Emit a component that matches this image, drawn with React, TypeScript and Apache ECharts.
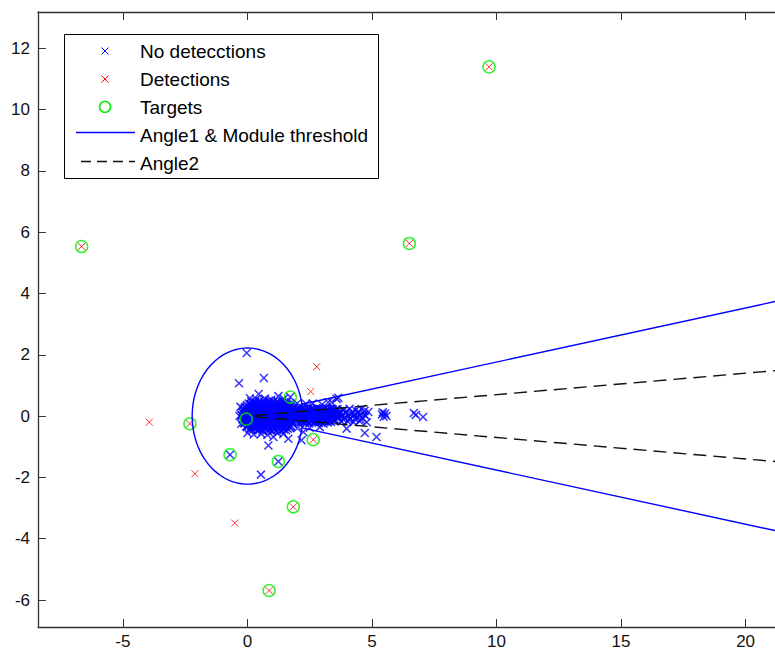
import React, { useEffect, useRef } from "react";
import * as echarts from "echarts";

// Radar returns that were not flagged as detections
const noDetections: [number, number][] = [
  // dense core around the origin
  [0.15, 0.48], [0.32, 0.47], [0.50, 0.49], [0.68, 0.47], [0.86, 0.50], [1.05, 0.47], [1.22, 0.48], [1.40, 0.47], [1.58, 0.46],
  [0.05, 0.41], [0.22, 0.44], [0.41, 0.39], [0.58, 0.43], [0.77, 0.40], [0.93, 0.45], [1.12, 0.41], [1.31, 0.38], [1.47, 0.43], [1.66, 0.37],
  [0.13, 0.39], [0.31, 0.40], [0.49, 0.38], [0.67, 0.41], [0.85, 0.39], [1.03, 0.40], [1.21, 0.38], [1.39, 0.41], [1.57, 0.39], [1.75, 0.38],
  [-0.02, 0.36], [0.16, 0.35], [0.34, 0.37], [0.51, 0.34], [0.70, 0.36], [0.87, 0.38], [1.05, 0.35], [1.22, 0.37], [1.40, 0.34], [1.58, 0.36], [1.77, 0.35],
  [-0.08, 0.31], [0.12, 0.28], [0.27, 0.32], [0.45, 0.29], [0.63, 0.31], [0.80, 0.27], [0.96, 0.33], [1.15, 0.30], [1.33, 0.28], [1.52, 0.31], [1.70, 0.27], [1.86, 0.29],
  [-0.10, 0.27], [0.07, 0.28], [0.25, 0.26], [0.43, 0.27], [0.61, 0.29], [0.79, 0.26], [0.97, 0.28], [1.15, 0.27], [1.33, 0.25], [1.51, 0.28], [1.69, 0.27], [1.87, 0.26], [2.05, 0.28],
  [-0.15, 0.24], [0.04, 0.23], [0.20, 0.25], [0.38, 0.22], [0.55, 0.24], [0.72, 0.26], [0.90, 0.23], [1.08, 0.25], [1.26, 0.22], [1.44, 0.24], [1.62, 0.26], [1.80, 0.23], [1.97, 0.22],
  [-0.12, 0.17], [0.03, 0.19], [0.19, 0.16], [0.35, 0.20], [0.52, 0.18], [0.68, 0.15], [0.86, 0.19], [1.02, 0.17], [1.19, 0.20], [1.37, 0.16], [1.55, 0.18], [1.72, 0.19], [1.90, 0.15],
  [-0.18, 0.15], [0.00, 0.14], [0.17, 0.16], [0.35, 0.15], [0.53, 0.13], [0.71, 0.16], [0.89, 0.15], [1.07, 0.14], [1.25, 0.16], [1.43, 0.15], [1.61, 0.13], [1.79, 0.16], [1.97, 0.15],
  [-0.20, 0.11], [-0.04, 0.12], [0.14, 0.10], [0.31, 0.13], [0.48, 0.11], [0.65, 0.12], [0.82, 0.10], [0.99, 0.13], [1.16, 0.11], [1.33, 0.12], [1.50, 0.10], [1.69, 0.13], [1.87, 0.11],
  [-0.15, 0.05], [0.08, 0.07], [0.24, 0.04], [0.40, 0.08], [0.57, 0.06], [0.74, 0.03], [0.90, 0.07], [1.07, 0.05], [1.24, 0.08], [1.41, 0.04], [1.60, 0.06], [1.78, 0.07], [1.95, 0.04],
  [-0.24, 0.03], [-0.08, 0.04], [0.10, 0.02], [0.28, 0.03], [0.46, 0.05], [0.64, 0.02], [0.82, 0.03], [1.00, 0.04], [1.18, 0.02], [1.36, 0.03], [1.54, 0.05], [1.72, 0.02], [1.90, 0.03],
  [-0.22, 0.01], [-0.05, -0.01], [0.12, 0.00], [0.29, 0.02], [0.46, -0.01], [0.63, 0.01], [0.80, 0.00], [0.97, 0.02], [1.14, -0.01], [1.31, 0.01], [1.49, 0.00], [1.67, 0.02], [1.85, -0.01], [2.00, 0.00],
  [-0.10, -0.05], [0.02, -0.07], [0.17, -0.04], [0.33, -0.08], [0.49, -0.06], [0.66, -0.05], [0.82, -0.08], [0.99, -0.06], [1.16, -0.04], [1.34, -0.07], [1.51, -0.05], [1.69, -0.08], [1.86, -0.06],
  [-0.20, -0.09], [-0.03, -0.10], [0.14, -0.08], [0.31, -0.09], [0.48, -0.11], [0.66, -0.08], [0.84, -0.09], [1.02, -0.10], [1.20, -0.08], [1.38, -0.09], [1.56, -0.11], [1.74, -0.08], [1.92, -0.09],
  [-0.18, -0.12], [-0.01, -0.13], [0.16, -0.11], [0.33, -0.12], [0.50, -0.14], [0.67, -0.11], [0.84, -0.12], [1.01, -0.13], [1.19, -0.11], [1.36, -0.12], [1.54, -0.14], [1.72, -0.11], [1.90, -0.12],
  [-0.06, -0.19], [0.11, -0.17], [0.28, -0.20], [0.44, -0.16], [0.61, -0.19], [0.78, -0.18], [0.94, -0.21], [1.10, -0.17], [1.28, -0.19], [1.45, -0.16], [1.63, -0.20], [1.81, -0.17],
  [-0.14, -0.21], [0.03, -0.22], [0.20, -0.20], [0.37, -0.21], [0.54, -0.23], [0.72, -0.20], [0.90, -0.21], [1.08, -0.22], [1.26, -0.20], [1.44, -0.21], [1.62, -0.23], [1.80, -0.20],
  [-0.12, -0.24], [0.05, -0.25], [0.22, -0.23], [0.39, -0.24], [0.56, -0.26], [0.73, -0.23], [0.90, -0.24], [1.07, -0.25], [1.25, -0.23], [1.42, -0.24], [1.60, -0.26], [1.78, -0.23],
  [0.04, -0.31], [0.21, -0.29], [0.37, -0.32], [0.55, -0.28], [0.71, -0.31], [0.88, -0.30], [1.05, -0.33], [1.22, -0.29], [1.40, -0.31], [1.58, -0.28], [1.75, -0.32],
  [-0.05, -0.33], [0.13, -0.34], [0.30, -0.32], [0.47, -0.33], [0.65, -0.35], [0.83, -0.32], [1.00, -0.33], [1.18, -0.34], [1.35, -0.32], [1.53, -0.33], [1.71, -0.35],
  [-0.02, -0.36], [0.16, -0.37], [0.33, -0.35], [0.50, -0.36], [0.67, -0.38], [0.84, -0.35], [1.01, -0.36], [1.18, -0.37], [1.36, -0.35], [1.53, -0.36], [1.70, -0.38],
  [0.09, -0.43], [0.30, -0.41], [0.50, -0.44], [0.68, -0.40], [0.90, -0.45], [1.08, -0.42], [1.27, -0.40], [1.46, -0.44], [1.62, -0.41],
  [0.20, -0.47], [0.40, -0.46], [0.60, -0.48], [0.80, -0.46], [1.00, -0.49], [1.18, -0.46], [1.37, -0.48], [1.55, -0.46],
  [-0.28, 0.30], [-0.32, 0.0], [-0.25, -0.25],
  // band beyond the module threshold
  [2.02, 0.27], [2.21, 0.25], [2.40, 0.28], [2.58, 0.24], [2.77, 0.26], [2.95, 0.23], [3.14, 0.27], [3.33, 0.24],
  [2.06, 0.23], [2.25, 0.24], [2.44, 0.22], [2.63, 0.23], [2.82, 0.24], [3.00, 0.22], [3.19, 0.23], [3.38, 0.24], [3.56, 0.22],
  [2.11, 0.20], [2.30, 0.21], [2.49, 0.19], [2.68, 0.20], [2.86, 0.21], [3.05, 0.19], [3.24, 0.20], [3.44, 0.21],
  [2.08, 0.13], [2.27, 0.15], [2.46, 0.12], [2.64, 0.16], [2.83, 0.14], [3.02, 0.13], [3.20, 0.15], [3.40, 0.12], [3.55, 0.16],
  [2.15, 0.11], [2.34, 0.10], [2.53, 0.12], [2.72, 0.11], [2.91, 0.10], [3.10, 0.12], [3.29, 0.11], [3.47, 0.10], [3.65, 0.12],
  [2.02, 0.08], [2.20, 0.09], [2.38, 0.07], [2.57, 0.08], [2.76, 0.09], [2.94, 0.07], [3.13, 0.08], [3.32, 0.09], [3.50, 0.07], [3.68, 0.08],
  [2.12, 0.03], [2.31, 0.01], [2.50, 0.04], [2.69, 0.00], [2.88, 0.02], [3.07, 0.04], [3.25, 0.01], [3.44, 0.03], [3.62, 0.02],
  [2.09, -0.01], [2.28, 0.00], [2.47, -0.02], [2.66, -0.01], [2.85, 0.00], [3.04, -0.02], [3.23, -0.01], [3.42, 0.00], [3.60, -0.02], [3.78, 0.00],
  [2.06, -0.04], [2.25, -0.03], [2.44, -0.05], [2.63, -0.04], [2.82, -0.03], [3.01, -0.05], [3.20, -0.04], [3.39, -0.03], [3.58, -0.05],
  [2.05, -0.09], [2.24, -0.11], [2.43, -0.08], [2.62, -0.12], [2.80, -0.10], [2.99, -0.09], [3.18, -0.11], [3.36, -0.08], [3.52, -0.12],
  [2.18, -0.13], [2.37, -0.14], [2.56, -0.12], [2.75, -0.13], [2.94, -0.14], [3.13, -0.12], [3.32, -0.13], [3.50, -0.14],
  [2.15, -0.16], [2.34, -0.15], [2.53, -0.17], [2.72, -0.16], [2.91, -0.15], [3.10, -0.17], [3.29, -0.16], [3.46, -0.15],
  [2.02, -0.19], [2.21, -0.19], [2.40, -0.20], [2.59, -0.18], [2.78, -0.19], [2.97, -0.20], [3.16, -0.18], [3.35, -0.19],
  [2.10, -0.23], [2.29, -0.21], [2.48, -0.24], [2.67, -0.20], [2.86, -0.22], [3.05, -0.25], [3.23, -0.21],
  [3.62, 0.22], [3.85, 0.20], [4.10, 0.24], [4.34, 0.19], [4.58, 0.23],
  [3.75, 0.15], [3.98, 0.16], [4.22, 0.14], [4.46, 0.15], [4.70, 0.17],
  [3.72, 0.08], [3.95, 0.10], [4.19, 0.07], [4.43, 0.09], [4.68, 0.06], [4.85, 0.13],
  [3.80, 0.02], [4.05, 0.01], [4.28, 0.03], [4.52, 0.02], [4.75, 0.00],
  [3.66, -0.06], [3.90, -0.05], [4.13, -0.08], [4.37, -0.04], [4.61, -0.07], [4.79, -0.20],
  [3.85, -0.11], [4.08, -0.12], [4.32, -0.10], [4.55, -0.12],
  [3.78, -0.18], [4.02, -0.17], [4.26, -0.20], [4.50, -0.16],
  // sparse returns around the band
  [0.10, 0.58], [0.35, 0.55], [0.45, 0.72], [0.70, 0.57], [0.95, 0.53], [1.24, 0.65], [1.45, 0.56], [2.00, 0.42], [2.35, 0.40], [2.62, 0.41],
  [3.00, 0.38], [3.24, 0.45], [3.38, 0.45], [3.58, 0.56], [3.65, 0.60],
  [0.00, -0.55], [0.25, -0.60], [0.55, -0.58], [0.80, -0.62], [1.04, -0.68], [1.20, -0.55], [1.44, -0.58], [1.64, -0.74], [0.84, -0.96],
  [2.00, -0.40], [2.24, -0.52], [2.17, -0.79], [2.50, -0.38], [2.90, -0.36], [3.98, -0.41], [4.71, -0.55], [5.18, -0.68],
  [5.40, 0.05], [5.47, -0.02], [5.52, 0.08], [5.43, 0.12], [5.58, 0.00], [6.68, 0.10], [6.76, 0.04], [7.05, -0.03],
  [-0.34, 1.07], [0.66, 1.24], [-0.03, 2.06], [0.54, -1.91],
  [-0.05, -0.10], [-0.70, -1.26], [1.24, -1.48], [1.72, 0.62],
];

// Returns flagged as detections
const detections: [number, number][] = [
  [9.70, 11.39], [-6.66, 5.53], [6.50, 5.63], [-2.31, -0.25], [2.64, -0.77], [1.84, -2.96],
  [0.87, -5.69], [-3.94, -0.20], [-2.11, -1.88], [-0.51, -3.49], [2.78, 1.61], [2.54, 0.80],
];

// Ground-truth target positions
const targets: [number, number][] = [
  [9.70, 11.39], [-6.66, 5.53], [6.50, 5.63], [-2.31, -0.25], [-0.05, -0.10], [-0.70, -1.26],
  [1.24, -1.48], [1.72, 0.62], [2.64, -0.77], [1.84, -2.96], [0.87, -5.69],
];

// Gate parameters
const moduleThreshold = 2.22;
const angle1Deg = 10;
const angle2Deg = 4;
const gateRange = 26;

const xTicks = [-5, 0, 5, 10, 15, 20];
const yTicks = [-6, -4, -2, 0, 2, 4, 6, 8, 10, 12];

const FONT = '"Liberation Sans", Arial, sans-serif';
const CROSS = "path://M0,0L10,10M10,0L0,10";

const ray = (deg: number, r0: number, r1: number): [number, number][] => {
  const a = (deg * Math.PI) / 180;
  return [
    [r0 * Math.cos(a), r0 * Math.sin(a)],
    [r1 * Math.cos(a), r1 * Math.sin(a)],
  ];
};

const thresholdCircle = (): [number, number][] => {
  const pts: [number, number][] = [];
  for (let d = 0; d <= 360; d += 3) {
    const a = (d * Math.PI) / 180;
    pts.push([moduleThreshold * Math.cos(a), moduleThreshold * Math.sin(a)]);
  }
  return pts;
};

export default function App() {
  const ref = useRef<HTMLDivElement>(null);

  useEffect(() => {
    if (!ref.current) return;
    const chart = echarts.init(ref.current, undefined, { renderer: "svg" });

    const axisLine = { show: true, onZero: false, lineStyle: { color: "#333", width: 1.3 } };
    const lineSeries = (data: [number, number][], color: string, type: any) => ({
      type: "line",
      data,
      showSymbol: false,
      symbol: "none",
      clip: true,
      lineStyle: { color, width: 1.4, type },
      silent: true,
      z: 5,
    });

    const legendRows = [51.5, 79.5, 107.3, 135, 163];
    const mx = 105;
    const crossLines = (cy: number, color: string) => [
      { type: "line", shape: { x1: mx - 3.5, y1: cy - 3.5, x2: mx + 3.5, y2: cy + 3.5 }, style: { stroke: color, lineWidth: 1 } },
      { type: "line", shape: { x1: mx + 3.5, y1: cy - 3.5, x2: mx - 3.5, y2: cy + 3.5 }, style: { stroke: color, lineWidth: 1 } },
    ];
    const legendText = (text: string, cy: number) => ({
      type: "text",
      x: 140,
      y: cy,
      style: { text, fontSize: 19, fontFamily: FONT, fill: "#000", verticalAlign: "middle", align: "left" },
    });

    chart.setOption({
      animation: false,
      backgroundColor: "#fff",
      grid: { left: 38, right: 0, top: 12, bottom: 21, containLabel: false },
      xAxis: [
        {
          type: "value",
          min: -8.41,
          max: 21.18,
          position: "bottom",
          axisLine,
          axisTick: { show: true, inside: true, length: 8, customValues: xTicks, lineStyle: { color: "#333" } },
          axisLabel: { show: true, customValues: xTicks, fontSize: 17, fontFamily: FONT, color: "#111", margin: 6 },
          splitLine: { show: false },
        },
        {
          type: "value",
          min: -8.41,
          max: 21.18,
          position: "top",
          axisLine,
          axisTick: { show: true, inside: true, length: 8, customValues: xTicks, lineStyle: { color: "#333" } },
          axisLabel: { show: false },
          splitLine: { show: false },
        },
      ],
      yAxis: {
        type: "value",
        min: -6.88,
        max: 13.18,
        axisLine,
        axisTick: { show: true, inside: true, length: 8, customValues: yTicks, lineStyle: { color: "#333" } },
        axisLabel: { show: true, customValues: yTicks, fontSize: 17, fontFamily: FONT, color: "#111", margin: 8 },
        splitLine: { show: false },
      },
      series: [
        {
          name: "No detecctions",
          type: "scatter",
          data: noDetections,
          symbol: CROSS,
          symbolSize: 8,
          itemStyle: { color: "#0000ff", borderColor: "#0000ff", borderWidth: 1.5 },
          silent: true,
          z: 2,
        },
        {
          name: "Detections",
          type: "scatter",
          data: detections,
          symbol: CROSS,
          symbolSize: 7,
          itemStyle: { color: "#ff0000", borderColor: "#ff0000", borderWidth: 1 },
          silent: true,
          z: 3,
        },
        {
          name: "Targets",
          type: "scatter",
          data: targets,
          symbol: "circle",
          symbolSize: 12,
          itemStyle: { color: "transparent", borderColor: "#00ee00", borderWidth: 1.5 },
          silent: true,
          z: 4,
        },
        lineSeries(thresholdCircle(), "#0000ff", "solid"),
        lineSeries(ray(angle1Deg, moduleThreshold, gateRange), "#0000ff", "solid"),
        lineSeries(ray(-angle1Deg, moduleThreshold, gateRange), "#0000ff", "solid"),
        lineSeries(ray(angle2Deg, 0.3, gateRange), "#111", [13, 7]),
        lineSeries(ray(-angle2Deg, 0.3, gateRange), "#111", [13, 7]),
      ],
      graphic: [
        {
          type: "group",
          z: 100,
          children: [
            {
              type: "rect",
              shape: { x: 64.5, y: 34.5, width: 314, height: 144 },
              style: { fill: "#fff", stroke: "#000", lineWidth: 1 },
            },
            ...crossLines(legendRows[0] - 0.5, "#0000ff"),
            legendText("No detecctions", legendRows[0]),
            ...crossLines(legendRows[1] - 0.5, "#ff0000"),
            legendText("Detections", legendRows[1]),
            {
              type: "circle",
              shape: { cx: mx, cy: legendRows[2] - 0.5, r: 5.5 },
              style: { fill: "none", stroke: "#00ee00", lineWidth: 1.5 },
            },
            legendText("Targets", legendRows[2]),
            {
              type: "line",
              shape: { x1: 76, y1: 132.5, x2: 135, y2: 132.5 },
              style: { stroke: "#0000ff", lineWidth: 1.3 },
            },
            legendText("Angle1 & Module threshold", legendRows[3]),
            {
              type: "line",
              shape: { x1: 81, y1: 161.5, x2: 135, y2: 161.5 },
              style: { stroke: "#111", lineWidth: 1.3, lineDash: [10, 6] },
            },
            legendText("Angle2", legendRows[4]),
          ],
        },
      ],
    });

    return () => chart.dispose();
  }, []);

  return (
    <div
      ref={ref}
      style={{ position: "fixed", left: 0, top: 0, width: 775, height: 650, background: "#fff" }}
    />
  );
}
